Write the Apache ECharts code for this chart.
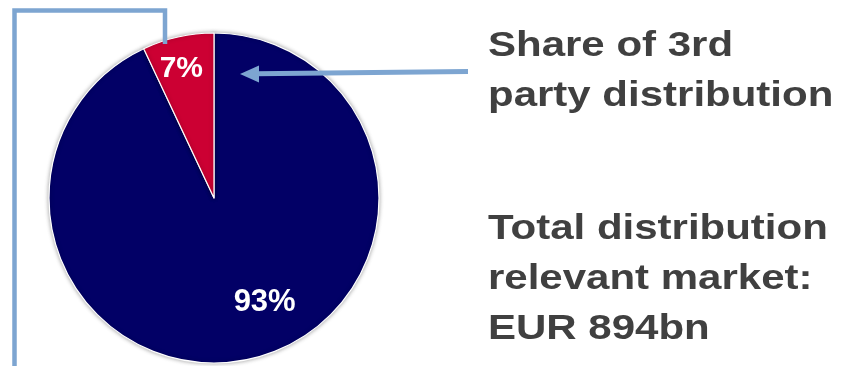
<!DOCTYPE html>
<html>
<head>
<meta charset="utf-8">
<script src="https://cdn.jsdelivr.net/npm/echarts@6/dist/echarts.min.js"></script>
<style>html,body{margin:0;padding:0;background:#fff;}#c{width:843px;height:366px;}</style>
</head>
<body>
<div id="c"></div>
<script>
var categories = ['Other distribution', '3rd party distribution'];
var values = [93, 7];
var labels = ['93%', '7%'];
var textLines1 = ['Share of 3rd', 'party distribution'];
var textLines2 = ['Total distribution', 'relevant market:', 'EUR 894bn'];

var colors = ['#020066', '#CC0033'];
var labelOffsets = [[32, 21], [-14, -46]];
var chart = echarts.init(document.getElementById('c'), null, {renderer: 'canvas'});
var lineColor = '#7DA5D1';
var textColor = '#404040';
var font = '"Liberation Sans", Arial, sans-serif';

var graphics = [];
graphics.push({
  type: 'polyline', z: 100,
  shape: {points: [[14.5, 370], [14.5, 10.5], [165, 10.5], [165, 44]]},
  style: {stroke: lineColor, lineWidth: 4.5, fill: null, lineJoin: 'miter'}
});
graphics.push({
  type: 'line', z: 100,
  shape: {x1: 468, y1: 71.5, x2: 256, y2: 73.8},
  style: {stroke: lineColor, lineWidth: 5}
});
graphics.push({
  type: 'polygon', z: 100,
  shape: {points: [[240, 74], [259, 65.5], [259, 82.5]]},
  style: {fill: lineColor}
});
textLines1.forEach(function (t, i) {
  graphics.push({
    type: 'text', z: 100, x: 488, y: 29 + i * 50, scaleX: 1.2,
    style: {text: t, fill: textColor, font: 'bold 35px ' + font, verticalAlign: 'top'}
  });
});
textLines2.forEach(function (t, i) {
  graphics.push({
    type: 'text', z: 100, x: 488, y: 212 + i * 50, scaleX: 1.2,
    style: {text: t, fill: textColor, font: 'bold 35px ' + font, verticalAlign: 'top'}
  });
});

chart.setOption({
  animation: false,
  backgroundColor: '#ffffff',
  series: [{
    type: 'pie',
    center: [214, 198],
    radius: 165,
    startAngle: 90,
    clockwise: true,
    silent: true,
    itemStyle: {borderColor: '#ffffff', borderWidth: 1.2, shadowBlur: 4, shadowColor: 'rgba(0,0,0,0.35)'},
    label: {
      show: true, position: 'inside', color: '#ffffff', fontWeight: 'bold',
      fontFamily: font, fontSize: 30
    },
    labelLine: {show: false},
    data: categories.map(function (c, i) {
      return {
        name: c, value: values[i],
        itemStyle: {color: colors[i]},
        label: {formatter: labels[i], offset: labelOffsets[i], fontSize: i === 1 ? 30 : 31}
      };
    })
  }],
  graphic: graphics
});
</script>
</body>
</html>
